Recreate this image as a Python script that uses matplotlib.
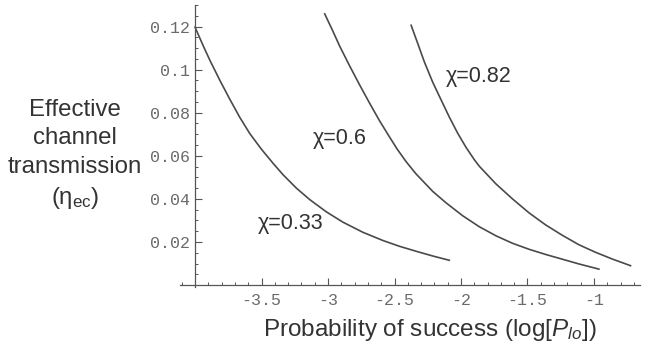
import matplotlib
matplotlib.use("Agg")
import matplotlib.pyplot as plt
from matplotlib.ticker import MultipleLocator, FixedLocator

plt.rcParams['font.family'] = ['Liberation Sans', 'DejaVu Sans']
plt.rcParams['mathtext.fontset'] = 'custom'
plt.rcParams['mathtext.rm'] = 'Liberation Sans'
plt.rcParams['mathtext.it'] = 'Liberation Sans:italic'

# curves: x = log[P_lo], y = effective channel transmission
x_033 = [-4.0, -3.938, -3.888, -3.813, -3.738, -3.663, -3.588, -3.50, -3.413, -3.338,
         -3.238, -3.138, -3.013, -2.888, -2.738, -2.588, -2.463, -2.338, -2.213, -2.088]
y_033 = [0.1197, 0.1110, 0.1043, 0.0950, 0.0862, 0.0778, 0.0703, 0.0630, 0.0565, 0.0512,
         0.0450, 0.0397, 0.0340, 0.0292, 0.0245, 0.0207, 0.0180, 0.0157, 0.0135, 0.0115]

x_060 = [-3.025, -2.963, -2.913, -2.838, -2.763, -2.688, -2.613, -2.538, -2.481, -2.413,
         -2.338, -2.213, -2.113, -1.988, -1.863, -1.738, -1.613, -1.488, -1.363, -1.238,
         -1.113, -0.963]
y_060 = [0.1259, 0.1178, 0.1110, 0.1018, 0.0930, 0.0845, 0.0763, 0.0688, 0.0632, 0.0573,
         0.0516, 0.0435, 0.0382, 0.0322, 0.0271, 0.0229, 0.0194, 0.0166, 0.0142, 0.0120,
         0.0098, 0.0074]

x_082 = [-2.375, -2.325, -2.275, -2.213, -2.150, -2.088, -2.025, -1.963, -1.900, -1.863,
         -1.738, -1.613, -1.488, -1.363, -1.238, -1.113, -0.988, -0.863, -0.725]
y_082 = [0.1206, 0.1121, 0.1035, 0.0942, 0.0860, 0.0780, 0.0705, 0.0640, 0.0582, 0.0552,
         0.0470, 0.0400, 0.0335, 0.0279, 0.0231, 0.0187, 0.0152, 0.0121, 0.0090]

labels = ['χ=0.33', 'χ=0.6', 'χ=0.82']
label_pos = [(-3.28, 0.0284), (-2.91, 0.068), (-1.87, 0.0967)]

xticks = [-3.5, -3, -2.5, -2, -1.5, -1]
yticks = [0.02, 0.04, 0.06, 0.08, 0.1, 0.12]

fig = plt.figure(figsize=(6.45, 3.47), dpi=100)
ax = fig.add_axes([180 / 645, 1 - 287 / 347, 460 / 645, 282 / 347])

line_col = '#4a4a4a'
for xs, ys in [(x_033, y_033), (x_060, y_060), (x_082, y_082)]:
    ax.plot(xs, ys, color=line_col, lw=1.2, solid_joinstyle='round')

for txt, (tx, ty) in zip(labels, label_pos):
    ax.text(tx, ty, txt, fontsize=15.5, color='#333333', ha='center', va='center')

ax.set_xlim(-4.113, -0.654)
ax.set_ylim(-0.0009, 0.130)

# Mathematica-style axes crossing at (-4, 0)
for s in ['top', 'right']:
    ax.spines[s].set_visible(False)
ax.spines['left'].set_position(('data', -4))
ax.spines['bottom'].set_position(('data', 0))
for s in ['left', 'bottom']:
    ax.spines[s].set_color('#555555')
    ax.spines[s].set_linewidth(0.9)

ax.xaxis.set_major_locator(FixedLocator(xticks))
ax.xaxis.set_minor_locator(MultipleLocator(0.1))
ax.yaxis.set_major_locator(FixedLocator(yticks))
ax.yaxis.set_minor_locator(MultipleLocator(0.005))
ax.set_xticklabels(['-3.5', '-3', '-2.5', '-2', '-1.5', '-1'])
ax.set_yticklabels(['0.02', '0.04', '0.06', '0.08', '0.1', '0.12'])

ax.tick_params(which='major', direction='in', length=5, width=0.8, color='#555555',
               labelsize=12, labelcolor='#6a6a6a')
ax.tick_params(axis='x', which='major', pad=6)
ax.tick_params(axis='y', which='major', pad=3.5)
ax.tick_params(which='minor', direction='in', length=2.5, width=0.7, color='#555555')
for lab in ax.get_xticklabels() + ax.get_yticklabels():
    lab.set_family('Liberation Mono')

fig.text(430 / 645, 1 - 330 / 347, r'Probability of success (log[$P_{lo}$])',
         fontsize=17.5, color='#333333', ha='center', va='center')
fig.text(75 / 645, 1 - 155 / 347,
         'Effective\nchannel\ntransmission\n(η$_{\\rm ec}$)',
         fontsize=17.3, color='#333333', ha='center', va='center', linespacing=1.38)

fig.savefig('out.png', dpi=100)
